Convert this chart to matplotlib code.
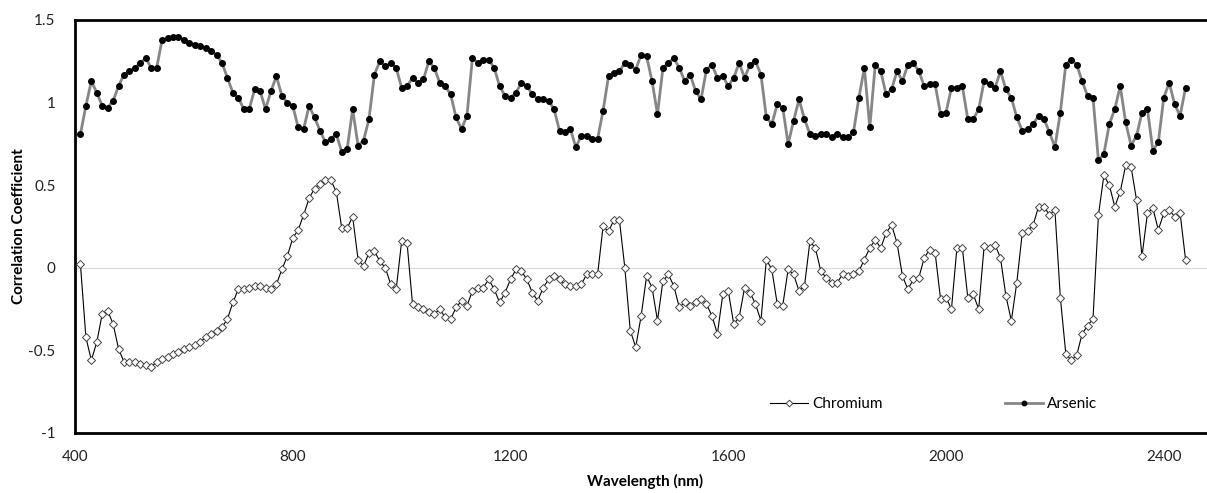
import matplotlib
matplotlib.use("Agg")
import matplotlib.pyplot as plt

plt.rcParams['font.family'] = ['Lato', 'DejaVu Sans']

# wavelength of every sample, nm
wavelength = list(range(410, 2450, 10))

chromium = [
    0.02, -0.42, -0.56, -0.45, -0.28, -0.26, -0.34, -0.49, -0.57, -0.57,
    -0.57, -0.58, -0.59, -0.60, -0.57, -0.55, -0.54, -0.52, -0.51, -0.49,
    -0.48, -0.47, -0.45, -0.42, -0.40, -0.38, -0.36, -0.31, -0.21, -0.13,
    -0.13, -0.12, -0.11, -0.11, -0.12, -0.13, -0.10, -0.01, 0.07, 0.18,
    0.23, 0.32, 0.42, 0.48, 0.51, 0.53, 0.53, 0.46, 0.24, 0.24,
    0.31, 0.05, 0.01, 0.09, 0.10, 0.04, 0.00, -0.10, -0.13, 0.16,
    0.15, -0.22, -0.24, -0.25, -0.27, -0.28, -0.25, -0.30, -0.31, -0.24,
    -0.20, -0.23, -0.14, -0.12, -0.12, -0.07, -0.13, -0.21, -0.15, -0.07,
    -0.01, -0.02, -0.07, -0.15, -0.20, -0.12, -0.07, -0.05, -0.07, -0.10,
    -0.11, -0.11, -0.10, -0.04, -0.04, -0.04, 0.25, 0.22, 0.29, 0.29,
    0.00, -0.38, -0.48, -0.29, -0.05, -0.12, -0.32, -0.08, -0.04, -0.11,
    -0.24, -0.21, -0.23, -0.21, -0.19, -0.22, -0.29, -0.40, -0.16, -0.14,
    -0.34, -0.30, -0.12, -0.15, -0.22, -0.32, 0.05, -0.01, -0.22, -0.23,
    -0.01, -0.04, -0.14, -0.11, 0.16, 0.12, -0.02, -0.06, -0.09, -0.09,
    -0.04, -0.05, -0.04, -0.02, 0.05, 0.12, 0.17, 0.12, 0.21, 0.26,
    0.15, -0.05, -0.13, -0.07, -0.06, 0.06, 0.11, 0.09, -0.19, -0.18,
    -0.25, 0.12, 0.12, -0.18, -0.16, -0.25, 0.13, 0.12, 0.14, 0.06,
    -0.17, -0.32, -0.09, 0.21, 0.22, 0.26, 0.37, 0.37, 0.32, 0.35,
    -0.18, -0.52, -0.56, -0.53, -0.40, -0.35, -0.31, 0.32, 0.56, 0.50,
    0.37, 0.46, 0.62, 0.61, 0.41, 0.07, 0.33, 0.36, 0.23, 0.33,
    0.35, 0.31, 0.33, 0.05,
]

arsenic = [
    0.81, 0.98, 1.13, 1.06, 0.98, 0.97, 1.01, 1.10, 1.17, 1.19,
    1.21, 1.24, 1.27, 1.21, 1.21, 1.38, 1.39, 1.40, 1.40, 1.38,
    1.36, 1.35, 1.34, 1.33, 1.31, 1.29, 1.24, 1.15, 1.06, 1.03,
    0.96, 0.96, 1.08, 1.07, 0.96, 1.07, 1.16, 1.04, 1.00, 0.98,
    0.85, 0.84, 0.98, 0.91, 0.83, 0.76, 0.78, 0.81, 0.70, 0.72,
    0.96, 0.74, 0.77, 0.90, 1.17, 1.25, 1.22, 1.24, 1.21, 1.09,
    1.10, 1.15, 1.12, 1.14, 1.25, 1.21, 1.12, 1.10, 1.05, 0.91,
    0.84, 0.92, 1.27, 1.24, 1.26, 1.26, 1.21, 1.10, 1.04, 1.03,
    1.06, 1.12, 1.10, 1.05, 1.02, 1.02, 1.01, 0.96, 0.83, 0.82,
    0.84, 0.73, 0.80, 0.80, 0.78, 0.78, 0.95, 1.16, 1.18, 1.19,
    1.24, 1.23, 1.20, 1.29, 1.28, 1.13, 0.93, 1.21, 1.24, 1.27,
    1.21, 1.13, 1.17, 1.07, 1.02, 1.20, 1.23, 1.15, 1.16, 1.10,
    1.15, 1.24, 1.15, 1.23, 1.25, 1.17, 0.91, 0.87, 0.99, 0.97,
    0.75, 0.89, 1.02, 0.90, 0.81, 0.80, 0.81, 0.81, 0.79, 0.81,
    0.79, 0.79, 0.82, 1.03, 1.21, 0.85, 1.23, 1.19, 1.05, 1.08,
    1.19, 1.13, 1.23, 1.24, 1.19, 1.10, 1.11, 1.11, 0.93, 0.94,
    1.09, 1.09, 1.10, 0.90, 0.90, 0.96, 1.13, 1.11, 1.09, 1.19,
    1.08, 1.03, 0.91, 0.83, 0.84, 0.87, 0.92, 0.90, 0.82, 0.73,
    0.94, 1.23, 1.26, 1.23, 1.13, 1.04, 1.03, 0.65, 0.69, 0.87,
    0.96, 1.10, 0.88, 0.74, 0.80, 0.94, 0.96, 0.71, 0.76, 1.03,
    1.12, 0.99, 0.92, 1.09,
]

x_ticks = [400, 800, 1200, 1600, 2000, 2400]
y_ticks = [-1, -0.5, 0, 0.5, 1, 1.5]
y_tick_labels = ["-1", "-0.5", "0", "0.5", "1", "1.5"]

fig = plt.figure(figsize=(12.07, 4.93), dpi=100)
ax = fig.add_axes([75 / 1207, 1 - 433 / 493, 1 - 75 / 1207, (433 - 20) / 493])

ax.axhline(0, color="#d9d9d9", lw=0.8, zorder=1)

ax.plot(wavelength, chromium, color="black", lw=0.8, marker="D", ms=4.2,
        mfc="white", mec="#444444", mew=0.7, label="Chromium", zorder=3)
ax.plot(wavelength, arsenic, color="#868686", lw=2.0, marker="o", ms=4.0,
        mfc="black", mec="black", label="Arsenic", zorder=3)

ax.set_xlim(400, 400 + (1207 - 75.6) / 0.5441)
ax.set_ylim(-1, 1.5)
ax.set_xticks(x_ticks)
ax.set_yticks(y_ticks)
ax.set_yticklabels(y_tick_labels)
ax.tick_params(axis="both", length=0, labelsize=11, colors="#222222")
ax.tick_params(axis="y", pad=14)
ax.tick_params(axis="x", pad=12)

for side in ["top", "left", "bottom"]:
    ax.spines[side].set_linewidth(2.0)
    ax.spines[side].set_color("black")
ax.spines["right"].set_visible(False)

ax.set_xlabel("Wavelength (nm)", fontsize=11, fontweight="bold")
ax.set_ylabel("Correlation Coefficient", fontsize=11, fontweight="bold")
ax.xaxis.set_label_coords(0.504, -0.1)
ax.yaxis.set_label_coords(-0.043, 0.5)

ax.legend(loc="center left", bbox_to_anchor=((770 - 75) / 1132, (433 - 404) / 413),
          ncol=2, frameon=False, fontsize=11, handlelength=2.5,
          handletextpad=0.25, columnspacing=8.0, borderpad=0, borderaxespad=0,
          markerscale=0.8)

fig.savefig("out.png", dpi=100)
